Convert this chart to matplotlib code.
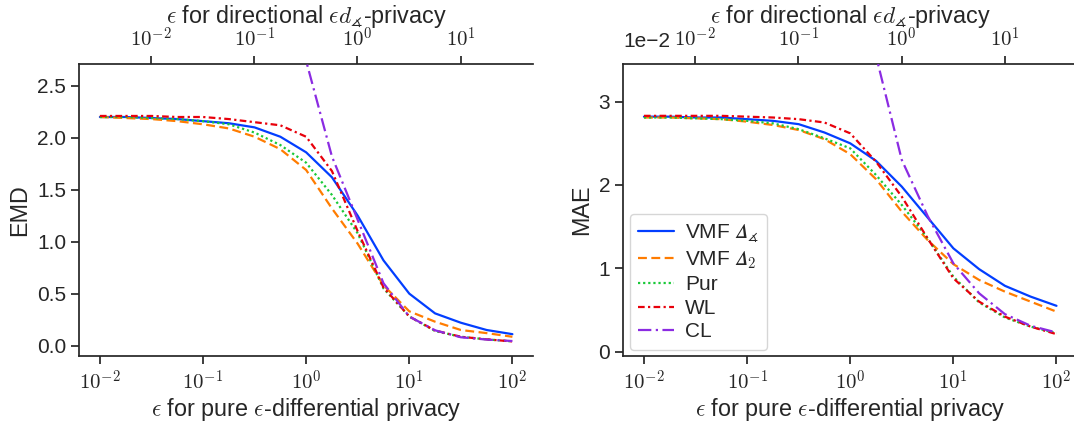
import numpy as np
import matplotlib
matplotlib.use("Agg")
import matplotlib.pyplot as plt
import matplotlib.transforms as mtransforms
import seaborn as sns
from matplotlib.ticker import NullLocator, ScalarFormatter, FuncFormatter, FormatStrFormatter

# epsilon grid for pure DP: quarter decades from 1e-2 to 1e2
eps = 10 ** np.linspace(-2, 2, 17)

labels = ["VMF $\U0001D6E5_{\\measuredangle}$", "VMF $\U0001D6E5_{2}$",
          "Pur", "WL", "CL"]

emd_vmf_ang = [2.20, 2.20, 2.19, 2.18, 2.16, 2.14, 2.10, 2.01, 1.86, 1.62,
               1.25, 0.82, 0.50, 0.31, 0.22, 0.15, 0.11]
emd_vmf_l2 = [2.20, 2.19, 2.18, 2.16, 2.13, 2.09, 2.01, 1.89, 1.69, 1.32,
              0.98, 0.58, 0.33, 0.23, 0.15, 0.12, 0.085]
emd_pur = [2.20, 2.20, 2.19, 2.18, 2.16, 2.13, 2.05, 1.93, 1.76, 1.45,
           1.08, 0.55, 0.28, 0.14, 0.085, 0.06, 0.04]
emd_wl = [2.21, 2.21, 2.21, 2.20, 2.20, 2.18, 2.15, 2.12, 2.01, 1.68,
          1.10, 0.56, 0.28, 0.145, 0.085, 0.06, 0.04]
emd_cl = [40.0, 30.0, 22.0, 16.0, 11.5, 8.3, 6.0, 4.2, 2.74, 1.82,
          1.21, 0.60, 0.28, 0.147, 0.08, 0.058, 0.044]

# MAE values, in units of 1e-2
mae_vmf_ang = [2.82, 2.82, 2.81, 2.81, 2.79, 2.77, 2.73, 2.63, 2.50, 2.29,
               1.98, 1.61, 1.24, 0.99, 0.79, 0.66, 0.55]
mae_vmf_l2 = [2.81, 2.81, 2.80, 2.79, 2.76, 2.72, 2.66, 2.55, 2.37, 2.07,
              1.68, 1.34, 1.05, 0.86, 0.72, 0.60, 0.48]
mae_pur = [2.81, 2.81, 2.80, 2.79, 2.77, 2.74, 2.67, 2.56, 2.44, 2.12,
           1.76, 1.36, 0.90, 0.59, 0.41, 0.30, 0.22]
mae_wl = [2.83, 2.83, 2.83, 2.83, 2.82, 2.81, 2.79, 2.75, 2.62, 2.28,
          1.86, 1.36, 0.88, 0.60, 0.42, 0.30, 0.21]
mae_cl = [60.0, 45.0, 34.0, 25.0, 18.0, 13.0, 9.5, 7.0, 5.0, 3.55,
          2.30, 1.63, 1.06, 0.70, 0.45, 0.31, 0.23]

top_ticks = [1e-2, 1e-1, 1e0, 1e1]

sns.set_theme(style="ticks", palette="bright")
plt.rcParams["font.family"] = ["Liberation Sans", "DejaVu Sans"]
plt.rcParams["mathtext.fontset"] = "cm"
plt.rcParams["axes.formatter.use_mathtext"] = False

colors = sns.color_palette("bright")
styles = [
    dict(color=colors[0], ls="-"),
    dict(color=colors[1], ls=(0, (4, 2))),
    dict(color=colors[2], ls=(0, (1, 1.3))),
    dict(color=colors[3], ls=(0, (3, 1.5, 1, 1.5))),
    dict(color=colors[4], ls=(0, (6, 2, 1, 2))),
]

pow10 = FuncFormatter(lambda v, p: r"$10^{%d}$" % int(round(np.log10(v))))

fig = plt.figure(figsize=(10.74, 4.25), dpi=100)
ax1 = fig.add_axes([0.0738, 0.1624, 0.4225, 0.687])
ax2 = fig.add_axes([0.5804, 0.1624, 0.4225, 0.687])

lab_fs = 16.8
tick_fs = 15
panels = [
    (ax1, [emd_vmf_ang, emd_vmf_l2, emd_pur, emd_wl, emd_cl], "EMD", 1.0, (-0.10, 2.71)),
    (ax2, [mae_vmf_ang, mae_vmf_l2, mae_pur, mae_wl, mae_cl], "MAE", 1e-2, (-0.00052, 0.03452)),
]

for ax, series, ylab, scale, ylim in panels:
    for vals, lab, st in zip(series, labels, styles):
        ax.plot(eps, np.array(vals) * scale, lw=1.6, label=lab, **st)
    ax.set_xscale("log")
    ax.set_xlim(10 ** -2.2, 10 ** 2.2)
    ax.set_ylim(*ylim)
    ax.xaxis.set_minor_locator(NullLocator())
    ax.xaxis.set_major_formatter(pow10)
    ax.set_xlabel(r"$\epsilon$ for pure $\epsilon$-differential privacy",
                  fontsize=lab_fs, labelpad=2)
    ax.set_ylabel(ylab, fontsize=lab_fs, labelpad=4)
    ax.tick_params(labelsize=tick_fs)
    ax.spines["right"].set_visible(False)
    ax.spines["top"].set_visible(False)

    top = ax.secondary_xaxis("top", functions=(lambda x: x / np.pi, lambda x: x * np.pi))
    top.set_xticks(top_ticks)
    top.xaxis.set_minor_locator(NullLocator())
    top.xaxis.set_major_formatter(pow10)
    top.set_xlabel(r"$\epsilon$ for directional $\epsilon d_{\measuredangle}$-privacy",
                   fontsize=lab_fs, labelpad=3)
    top.tick_params(labelsize=tick_fs)

ax1.set_yticks([0.0, 0.5, 1.0, 1.5, 2.0, 2.5])
ax1.yaxis.set_major_formatter(FormatStrFormatter("%.1f"))
ax2.set_yticks([0.0, 0.01, 0.02, 0.03])
fmt = ScalarFormatter()
fmt.set_powerlimits((0, 0))
ax2.yaxis.set_major_formatter(fmt)
off = ax2.yaxis.get_offset_text()
off.set_fontsize(tick_fs)
# lift the exponent up to the row of the top tick labels
off.set_transform(off.get_transform()
                  + mtransforms.ScaledTranslation(0, 9 / 72, fig.dpi_scale_trans))

ax2.legend(loc="lower left", fontsize=tick_fs, borderaxespad=0.3, handlelength=1.75,
           handletextpad=0.5, labelspacing=0.22)

fig.savefig("out.png", dpi=100)
